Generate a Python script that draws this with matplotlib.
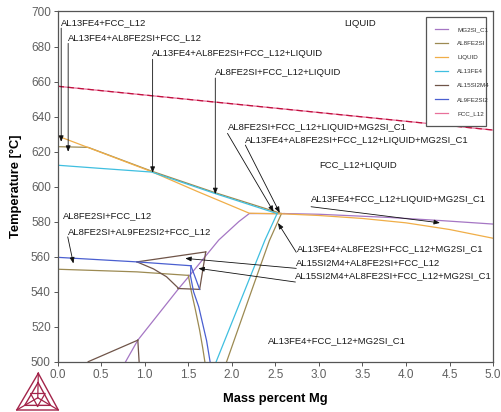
import matplotlib

matplotlib.use('Agg')
import matplotlib.pyplot as plt
from matplotlib.lines import Line2D

plt.rcParams['font.family'] = ['Liberation Sans', 'DejaVu Sans']

# phase boundary segments (Mg wt%, temperature degC)
fcc_x = [0.0, 5.0]
fcc_t = [657.3, 632.3]

liquid_x = [0.0, 0.35, 1.08, 1.6, 2.2, 2.6, 3.0, 3.5, 4.0, 4.5, 5.0]
liquid_t = [628.9, 622.3, 608.5, 597.3, 584.8, 584.4, 583.5, 581.8, 579.3, 575.5, 570.5]

mg2si_a_x = [0.78, 0.92, 1.39, 1.52, 1.85, 2.08, 2.2, 2.6]
mg2si_a_t = [500.0, 512.3, 541.8, 549.5, 569.5, 580.0, 584.6, 584.6]
mg2si_b_x = [2.6, 3.0, 3.8, 4.4, 5.0]
mg2si_b_t = [584.6, 584.2, 582.4, 580.6, 578.6]

al8_a_x = [0.0, 0.35, 1.08, 1.81, 2.57]
al8_a_t = [622.8, 622.4, 608.8, 596.5, 584.6]
al8_b_x = [0.0, 0.91, 1.50]
al8_b_t = [552.8, 551.3, 549.3]
al8_c_x = [1.50, 1.535, 1.58, 1.63, 1.665, 1.69]
al8_c_t = [549.3, 540.0, 530.0, 518.0, 508.0, 500.0]
al8_d_x = [1.94, 2.23, 2.43, 2.57]
al8_d_t = [500.0, 541.0, 569.0, 584.6]

al13_a_x = [0.0, 0.49, 1.08, 1.81, 2.52]
al13_a_t = [612.2, 610.4, 608.3, 596.0, 584.6]
al13_b_x = [1.82, 2.25, 2.38, 2.52]
al13_b_t = [500.0, 553.3, 569.4, 584.6]

al9_a_x = [0.0, 0.91, 1.53]
al9_a_t = [559.6, 557.0, 554.8]
al9_b_x = [1.53, 1.63]
al9_b_t = [554.8, 541.3]
al9_c_x = [1.53, 1.525, 1.56, 1.62, 1.71, 1.75]
al9_c_t = [554.8, 549.0, 540.0, 531.3, 512.0, 500.0]

al15_a_x = [0.91, 1.70]
al15_a_t = [557.0, 562.7]
al15_b_x = [1.70, 1.63]
al15_b_t = [562.7, 541.3]
al15_c_x = [1.38, 1.63]
al15_c_t = [541.8, 541.3]
al15_d_x = [0.91, 1.10, 1.25, 1.39]
al15_d_t = [557.0, 553.0, 548.5, 541.8]
al15_e_x = [0.35, 0.92]
al15_e_t = [500.0, 512.3]
al15_f_x = [0.92, 0.935]
al15_f_t = [512.3, 500.0]

PHASES = [
    ('MG2SI_C1', '#a576c4', [(mg2si_a_x, mg2si_a_t), (mg2si_b_x, mg2si_b_t)]),
    ('AL8FE2SI', '#9c8a52', [(al8_a_x, al8_a_t), (al8_b_x, al8_b_t),
                             (al8_c_x, al8_c_t), (al8_d_x, al8_d_t)]),
    ('LIQUID', '#f0ae48', [(liquid_x, liquid_t)]),
    ('AL13FE4', '#3fbfe0', [(al13_a_x, al13_a_t), (al13_b_x, al13_b_t)]),
    ('AL15SI2M4', '#6f5448', [(al15_a_x, al15_a_t), (al15_b_x, al15_b_t),
                              (al15_c_x, al15_c_t), (al15_d_x, al15_d_t),
                              (al15_e_x, al15_e_t), (al15_f_x, al15_f_t)]),
    ('AL9FE2SI2', '#4a5fd0', [(al9_a_x, al9_a_t), (al9_b_x, al9_b_t),
                              (al9_c_x, al9_c_t)]),
    ('FCC_L12', '#e8709a', [(fcc_x, fcc_t)]),
]

# region labels: text, (x, T) of left/centre
labels = [
    'AL13FE4+FCC_L12',
    'AL13FE4+AL8FE2SI+FCC_L12',
    'AL13FE4+AL8FE2SI+FCC_L12+LIQUID',
    'AL8FE2SI+FCC_L12+LIQUID',
    'AL8FE2SI+FCC_L12+LIQUID+MG2SI_C1',
    'AL13FE4+AL8FE2SI+FCC_L12+LIQUID+MG2SI_C1',
    'FCC_L12+LIQUID',
    'LIQUID',
    'AL13FE4+FCC_L12+LIQUID+MG2SI_C1',
    'AL8FE2SI+FCC_L12',
    'AL8FE2SI+AL9FE2SI2+FCC_L12',
    'AL13FE4+AL8FE2SI+FCC_L12+MG2SI_C1',
    'AL15SI2M4+AL8FE2SI+FCC_L12',
    'AL15SI2M4+AL8FE2SI+FCC_L12+MG2SI_C1',
    'AL13FE4+FCC_L12+MG2SI_C1',
]
label_x = [0.04, 0.115, 1.087, 1.81, 1.95, 2.155, 3.0, 3.29, 2.91,
           0.065, 0.115, 2.75, 2.74, 2.73, 2.41]
label_t = [693.6, 685.3, 676.1, 665.4, 633.6, 626.6, 611.9, 692.9, 592.9,
           583.3, 574.2, 564.3, 556.7, 548.9, 511.9]

# pointer lines: start -> arrow tip
arrow_x0 = [0.04, 0.12, 1.09, 1.81, 1.95, 2.155, 2.91, 0.115, 2.74, 2.74, 2.73]
arrow_t0 = [690.5, 681.8, 672.7, 662.0, 630.4, 623.7, 588.5, 571.3, 562.5, 553.3, 545.5]
arrow_x1 = [0.04, 0.12, 1.09, 1.81, 2.48, 2.55, 4.39, 0.18, 2.53, 1.465, 1.616]
arrow_t1 = [625.6, 619.9, 607.9, 595.7, 585.6, 585.0, 579.3, 556.1, 579.2, 559.0, 553.3]

fig = plt.figure(figsize=(5.01, 4.12), dpi=100)
ax = fig.add_axes([0.1152, 0.1221, 0.8689, 0.85])

handles = []
for name, color, segs in PHASES:
    for i, (xs, ts) in enumerate(segs):
        ln, = ax.plot(xs, ts, color=color, lw=0.9, label=name if i == 0 else None)
        if i == 0:
            handles.append(ln)
# the darker dashed trace on top of the FCC line
ax.plot(fcc_x, fcc_t, color='#c0123e', lw=0.9, dashes=(5, 3))

for txt, x, t in zip(labels, label_x, label_t):
    ax.text(x, t, txt, fontsize=6.8, color='#1a1a1a', ha='left', va='center')

for x0, t0, x1, t1 in zip(arrow_x0, arrow_t0, arrow_x1, arrow_t1):
    ax.annotate('', xy=(x1, t1), xytext=(x0, t0),
                arrowprops=dict(arrowstyle='-|>,head_length=0.5,head_width=0.2',
                                color='#111111', lw=0.6, shrinkA=0, shrinkB=0,
                                mutation_scale=7))

ax.set_xlim(0, 5)
ax.set_ylim(500, 700)
ax.set_xticks([0.0, 0.5, 1.0, 1.5, 2.0, 2.5, 3.0, 3.5, 4.0, 4.5, 5.0])
ax.set_yticks(range(500, 701, 20))
ax.xaxis.set_major_formatter(matplotlib.ticker.FormatStrFormatter('%.1f'))
ax.tick_params(direction='out', length=3, width=0.7, color='#555555',
               labelsize=8.5, labelcolor='#606060', pad=2)
for sp in ax.spines.values():
    sp.set_color('#555555')
    sp.set_linewidth(0.9)

ax.set_xlabel('Mass percent Mg', fontsize=9.3, fontweight='bold')
ax.set_ylabel('Temperature [°C]', fontsize=9.3, fontweight='bold')
ax.xaxis.set_label_coords(0.5, -0.088)
ax.yaxis.set_label_coords(-0.083, 0.5)

leg = ax.legend(handles=handles, loc='upper left',
                bbox_to_anchor=(0.8437, 0.699, 0.1323, 0.267),
                bbox_transform=fig.transFigure, mode='expand',
                fontsize=4.5, handlelength=2.0, handletextpad=1.5,
                labelspacing=1.4, borderpad=1.5, fancybox=False,
                edgecolor='#555555', framealpha=1)
leg.get_frame().set_linewidth(0.9)
for t in leg.get_texts():
    t.set_color('#333333')

# Thermo-Calc style logo at bottom left
logo = '#a3244a'
top, bl, br = (38.3, 373.3), (16.7, 410.0), (58.3, 410.0)
cx = (top[0] + bl[0] + br[0]) / 3
cy = (top[1] + bl[1] + br[1]) / 3


def fpt(p):
    return p[0] / 501, 1 - p[1] / 412


def shrink(p, f):
    return cx + (p[0] - cx) * f, cy + (p[1] - cy) * f


for tri_f in (1.0, 0.62):
    pts = [shrink(p, tri_f) for p in (top, bl, br, top)]
    fx, fy = zip(*[fpt(p) for p in pts])
    fig.add_artist(Line2D(fx, fy, color=logo, lw=1.0, transform=fig.transFigure))
for p in (top, bl, br):
    fx, fy = zip(*[fpt(p), fpt((cx, cy))])
    fig.add_artist(Line2D(fx, fy, color=logo, lw=0.9, transform=fig.transFigure))
inv = [shrink(p, -0.35) for p in (top, bl, br, top)]
fx, fy = zip(*[fpt(p) for p in inv])
fig.add_artist(Line2D(fx, fy, color=logo, lw=0.9, transform=fig.transFigure))

fig.savefig('out.png', dpi=100)
